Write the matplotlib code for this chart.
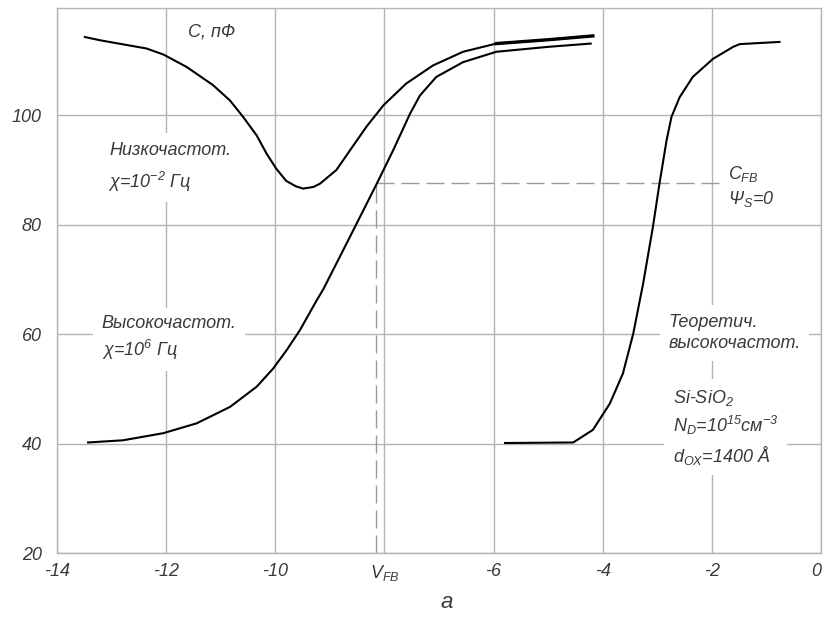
import matplotlib
matplotlib.use("Agg")
import matplotlib.pyplot as plt

# C-V curves, capacitance (pF) vs gate voltage (V)
lf_v = [-13.49, -13.21, -12.36, -12.05, -11.62, -11.14, -10.83, -10.59, -10.34, -10.16,
        -9.98, -9.8, -9.62, -9.49, -9.3, -9.18, -8.88, -8.63, -8.33, -8.02,
        -7.6, -7.11, -6.56, -5.95, -5.0, -4.18]
lf_c = [114.3, 113.7, 112.2, 111.1, 108.8, 105.5, 102.7, 99.7, 96.3, 93.0,
        90.2, 88.0, 87.0, 86.6, 86.9, 87.5, 90.0, 93.6, 97.9, 101.8,
        105.8, 109.1, 111.6, 113.1, 113.8, 114.5]

hf_v = [-13.43, -12.79, -12.05, -11.44, -10.83, -10.34, -10.04, -9.79, -9.55, -9.24,
        -9.12, -8.57, -8.14, -7.84, -7.53, -7.35, -7.05, -6.56, -5.95, -5.0, -4.22]
hf_c = [40.2, 40.6, 41.9, 43.7, 46.7, 50.4, 53.7, 57.1, 60.7, 66.2,
        68.2, 79.0, 87.5, 93.6, 100.3, 103.6, 107.0, 109.7, 111.6, 112.5, 113.1]

th_v = [-5.79, -4.54, -4.18, -3.87, -3.63, -3.44, -3.26, -3.08, -2.96, -2.83,
        -2.74, -2.59, -2.35, -1.98, -1.61, -1.49, -0.76]
th_c = [40.1, 40.2, 42.5, 47.3, 52.8, 60.1, 69.2, 79.6, 87.5, 95.4,
        99.7, 103.3, 107.0, 110.3, 112.5, 113.0, 113.4]

v_fb = -8.15
c_fb = 87.6
c_fb_end = -1.86

x_ticks = [-14, -12, -10, -8, -6, -4, -2, 0]
x_labels = ["-14", "-12", "-10", "$V_{FB}$", "-6", "-4", "-2", "0"]
y_ticks = [20, 40, 60, 80, 100]

GRID = "#b4b4b4"
TXT = "#3a3a3a"

plt.rcParams["font.family"] = ["Liberation Sans", "DejaVu Sans"]
plt.rcParams["font.style"] = "italic"
plt.rcParams["mathtext.fontset"] = "custom"
plt.rcParams["mathtext.it"] = "Liberation Sans:italic"
plt.rcParams["mathtext.rm"] = "Liberation Sans:italic"
plt.rcParams["mathtext.sf"] = "Liberation Sans:italic"

fig = plt.figure(figsize=(8.25, 6.17), dpi=100)
ax = fig.add_axes([57 / 825, 1 - 553 / 617, (821 - 57) / 825, (553 - 8) / 617])

ax.set_xlim(-14, 0)
ax.set_ylim(20, 119.6)
ax.set_xticks(x_ticks)
ax.set_xticklabels(x_labels)
ax.set_yticks(y_ticks)
ax.tick_params(length=0, labelsize=13, labelcolor=TXT)
ax.tick_params(axis="y", pad=11)
ax.tick_params(axis="x", pad=7)
ax.get_xticklabels()[-1].set_horizontalalignment("right")
ax.grid(True, color=GRID, lw=1.0, zorder=0)
ax.set_axisbelow(True)
for s in ax.spines.values():
    s.set_color(GRID)
    s.set_linewidth(1.0)

# dashed flat-band guides
ax.plot([v_fb, v_fb], [20, c_fb], color="#9a9a9a", lw=1.0, dashes=(13, 5), zorder=2)
ax.plot([v_fb, c_fb_end], [c_fb, c_fb], color="#9a9a9a", lw=1.0, dashes=(13, 5), zorder=2)

kw = dict(color="black", lw=1.5, zorder=4, solid_joinstyle="round")
ax.plot(lf_v, lf_c, **kw)
ax.plot(hf_v, hf_c, **kw)
ax.plot(th_v, th_c, **kw)
# heavier stroke near saturation on the upper curve
top_v = [v for v in lf_v if v >= -5.95]
top_c = [c for v, c in zip(lf_v, lf_c) if v >= -5.95]
ax.plot(top_v, top_c, color="black", lw=2.4, zorder=4)

box = dict(fc="white", ec="none", pad=6)
tk = dict(fontsize=13, color=TXT, va="center", ha="left", zorder=3, linespacing=1.35)

ax.text(-11.6, 115.2, "C, пФ", **tk)
ax.text(-13.03, 93.6, "Низкочастот.", bbox=box, **tk)
ax.text(-13.07, 87.8, "χ=10$^{-2}$ Гц", bbox=box, **tk)
ax.text(-13.18, 59.2, "Высокочастот.\nχ=10$^{6}$ Гц", bbox=box, **tk)
ax.text(-1.71, 87.0, "$C_{FB}$\nΨ$_{S}$=0", bbox=dict(fc="white", ec="none", pad=2), **tk)
ax.text(-2.8, 60.2, "Теоретич.\nвысокочастот.", bbox=box, **tk)
ax.text(-2.72, 43.0, "Si-SiO$_{2}$\nN$_{D}$=10$^{15}$см$^{-3}$\nd$_{OX}$=1400 Å", bbox=box, **tk)

fig.text(447 / 825, 1 - 603 / 617, "а", fontsize=16, color=TXT, ha="center", va="center")

fig.savefig("out.png", dpi=100)
